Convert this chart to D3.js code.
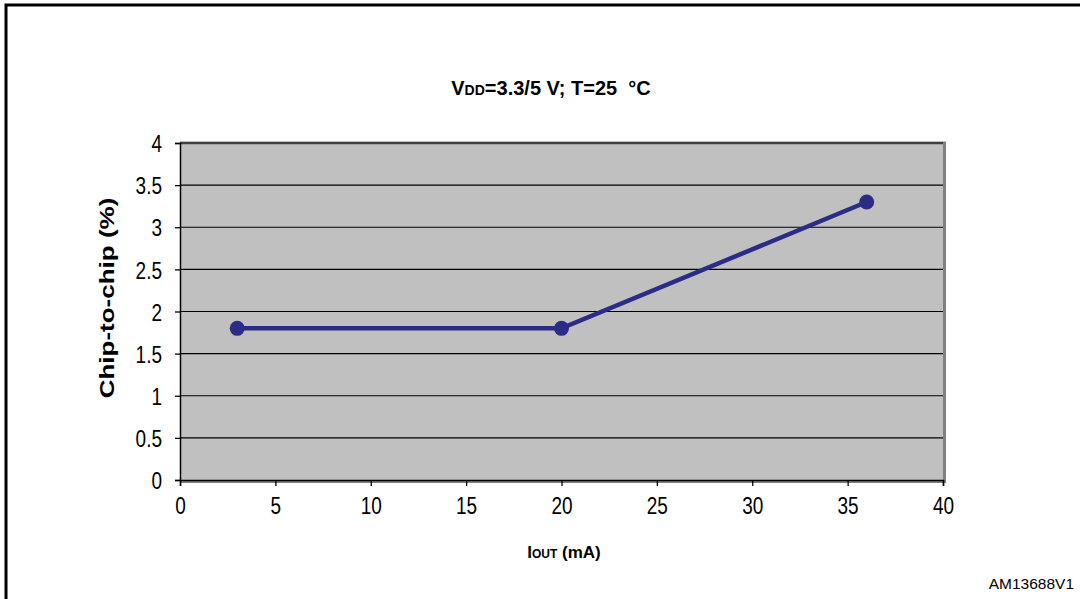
<!DOCTYPE html>
<html>
<head>
<meta charset="utf-8">
<script src="https://cdn.jsdelivr.net/npm/d3@7"></script>
<style>
  body { margin: 0; background: #fff; }
  svg { display: block; font-family: Arial, "Liberation Sans", sans-serif; }
</style>
</head>
<body>
<div class="chart"></div>
<script>
// data
const currents = [3, 20, 36];          // Iout (mA)
const spread = [1.8, 1.8, 3.3];        // chip-to-chip (%)
const xTicks = [0, 5, 10, 15, 20, 25, 30, 35, 40];
const yTicks = [0, 0.5, 1, 1.5, 2, 2.5, 3, 3.5, 4];

const W = 1080, H = 599;
const stretch = 1.3; // source text looks tall and narrow
const svg = d3.select('.chart')
  .append('svg')
  .attr('width', W)
  .attr('height', H);

// outer frame (top + left)
svg.append('path')
  .attr('d', `M6,${H} L6,5 L${W},5`)
  .attr('fill', 'none')
  .attr('stroke', '#000')
  .attr('stroke-width', 3);

const pL = 180, pR = 943, pT = 143, pB = 480;
const x = d3.scaleLinear().domain([0, 40]).range([pL, pR]);
const y = d3.scaleLinear().domain([0, 4]).range([pB, pT]);

// plot area
svg.append('rect')
  .attr('x', pL).attr('y', pT)
  .attr('width', pR - pL).attr('height', pB - pT)
  .attr('fill', '#c0c0c0');
svg.append('path')
  .attr('d', `M${pL},${pT} L${pR + 1.5},${pT} L${pR + 1.5},${pB + 1.5} L${pL},${pB + 1.5}`)
  .attr('fill', 'none')
  .attr('stroke', '#808080')
  .attr('stroke-width', 3);

// gridlines
svg.append('g')
  .selectAll('line')
  .data(yTicks.slice(1))
  .join('line')
  .attr('x1', pL).attr('x2', pR)
  .attr('y1', d => y(d)).attr('y2', d => y(d))
  .attr('stroke', '#000')
  .attr('stroke-width', 1.2);

// axes
const yAxis = svg.append('g')
  .attr('transform', `translate(${pL},0)`)
  .call(d3.axisLeft(y).tickValues(yTicks).tickSize(5).tickFormat(d3.format('')));
const xAxis = svg.append('g')
  .attr('transform', `translate(0,${pB})`)
  .call(d3.axisBottom(x).tickValues(xTicks).tickSize(6));
[yAxis, xAxis].forEach(g => {
  g.select('.domain').attr('stroke', '#000').attr('stroke-width', 1.5);
  g.selectAll('.tick line').attr('stroke', '#000').attr('stroke-width', 1.3);
  g.selectAll('text')
    .attr('fill', '#000')
    .style('font-size', '19px')
    .style('font-family', 'Arial, "Liberation Sans", sans-serif')
    .attr('transform', `scale(1,${stretch})`);
});
yAxis.selectAll('text').attr('x', -18).attr('y', 0).attr('dy', '0.35em');
xAxis.selectAll('text').attr('y', 34 / stretch).attr('dy', 0);

// series
const pts = currents.map((c, i) => [c, spread[i]]);
svg.append('path')
  .datum(pts)
  .attr('fill', 'none')
  .attr('stroke', '#2b2d85')
  .attr('stroke-width', 4.5)
  .attr('d', d3.line().x(d => x(d[0])).y(d => y(d[1])));
svg.append('g')
  .selectAll('circle')
  .data(pts)
  .join('circle')
  .attr('cx', d => x(d[0]))
  .attr('cy', d => y(d[1]))
  .attr('r', 7.5)
  .attr('fill', '#2b2d85');

// title
const title = svg.append('text')
  .attr('x', 551).attr('y', 95)
  .attr('text-anchor', 'middle')
  .attr('font-weight', 'bold')
  .attr('font-size', 20);
title.append('tspan').text('V');
title.append('tspan').attr('font-size', 14).text('DD');
title.append('tspan').text('=3.3/5 V; T=25\u00a0\u00a0°C');

// axis titles
svg.append('text')
  .attr('transform', `translate(114,298) rotate(-90) scale(${stretch},1)`)
  .attr('text-anchor', 'middle')
  .attr('font-weight', 'bold')
  .attr('font-size', 20)
  .text('Chip-to-chip (%)');

const xt = svg.append('text')
  .attr('x', 564).attr('y', 558)
  .attr('text-anchor', 'middle')
  .attr('font-weight', 'bold')
  .attr('font-size', 17);
xt.append('tspan').text('I');
xt.append('tspan').attr('font-size', 12).text('OUT');
xt.append('tspan').text(' (mA)');

svg.append('text')
  .attr('x', 1074).attr('y', 589)
  .attr('text-anchor', 'end')
  .attr('font-size', 15.5)
  .text('AM13688V1');
</script>
</body>
</html>
